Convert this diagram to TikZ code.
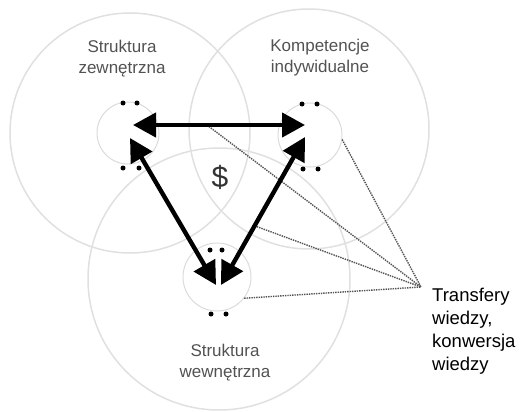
\documentclass[tikz,border=0pt]{standalone}
\usepackage{fontspec}
\setmainfont{Liberation Sans}
\usetikzlibrary{arrows.meta}
\begin{document}
\begin{tikzpicture}[x=1pt,y=-1pt,
  bigring/.style={draw=black!12, line width=1.5pt},
  smallring/.style={circle, draw=black!14, line width=1pt, inner sep=0pt},
  dot/.style={circle, fill=black, inner sep=0pt, minimum size=5pt},
  ringlabel/.style={text=black!68, font=\fontsize{17}{21}\selectfont, align=center},
  flow/.style={line width=4.4pt, {Triangle[length=23pt,width=24pt]}-{Triangle[length=23pt,width=24pt]}},
  transfer/.style={line width=1.4pt, draw=black!68, dash pattern=on 1.4pt off 1.0pt},
]
\useasboundingbox (0,0) rectangle (530,412);

% three large overlapping domains
\draw[bigring] (130,133) circle[radius=120pt];
\draw[bigring] (309,129) circle[radius=120pt];
\draw[bigring] (219,279) circle[radius=131pt];

% inner cores
\node[smallring, minimum size=62pt] (As) at (128,133) {};
\node[smallring, minimum size=64pt] (Bs) at (310,135) {};
\node[smallring, minimum size=68pt] (Cs) at (217,277) {};

% arrow end points
\coordinate (hA) at (133,125);
\coordinate (hB) at (305,125);
\coordinate (lA) at (130,138);
\coordinate (lC) at (216,285);
\coordinate (rB) at (305,137);
\coordinate (rC) at (221,285);
\coordinate (P) at (421,287);

% knowledge transfers
\path (hA) -- (hB) coordinate[pos=0.43] (h1);
\path (rB) -- (rC) coordinate[pos=0.6] (r1);
\draw[transfer] (h1) -- (P);
\draw[transfer] (r1) -- (P);
\draw[transfer] (Bs.-8) -- (P);
\draw[transfer] (Cs.-38) -- (P);

% flows between the domains
\draw[flow] (hA) -- (hB);
\draw[flow] (lA) -- (lC);
\draw[flow] (rB) -- (rC);
\draw[white, line width=1.5pt] (218.5,258) -- (218.5,292);

% paired dots at each core
\foreach \x/\y [count=\i] in {123/103,137/103,123/168,139/168,
                              302/104,317/104,303/169,318/169,
                              210/250,222/250,211/314,226/314}
  \node[dot] (d\i) at (\x,\y) {};

% labels
\node[ringlabel] (lblA) at (122,59) {Struktura\\zewnętrzna};
\node[ringlabel] (lblB) at (320,58) {Kompetencje\\indywidualne};
\node[ringlabel] (lblC) at (225,363) {Struktura\\wewnętrzna};
\node[text=black!80, font=\fontsize{30}{32}\selectfont] (usd) at (220,177) {\$};
\node[anchor=west, align=left, inner sep=0pt, font=\fontsize{18.5}{23}\selectfont] (tr) at (432,331)
  {Transfery\\wiedzy,\\konwersja\\wiedzy};
\end{tikzpicture}
\end{document}
